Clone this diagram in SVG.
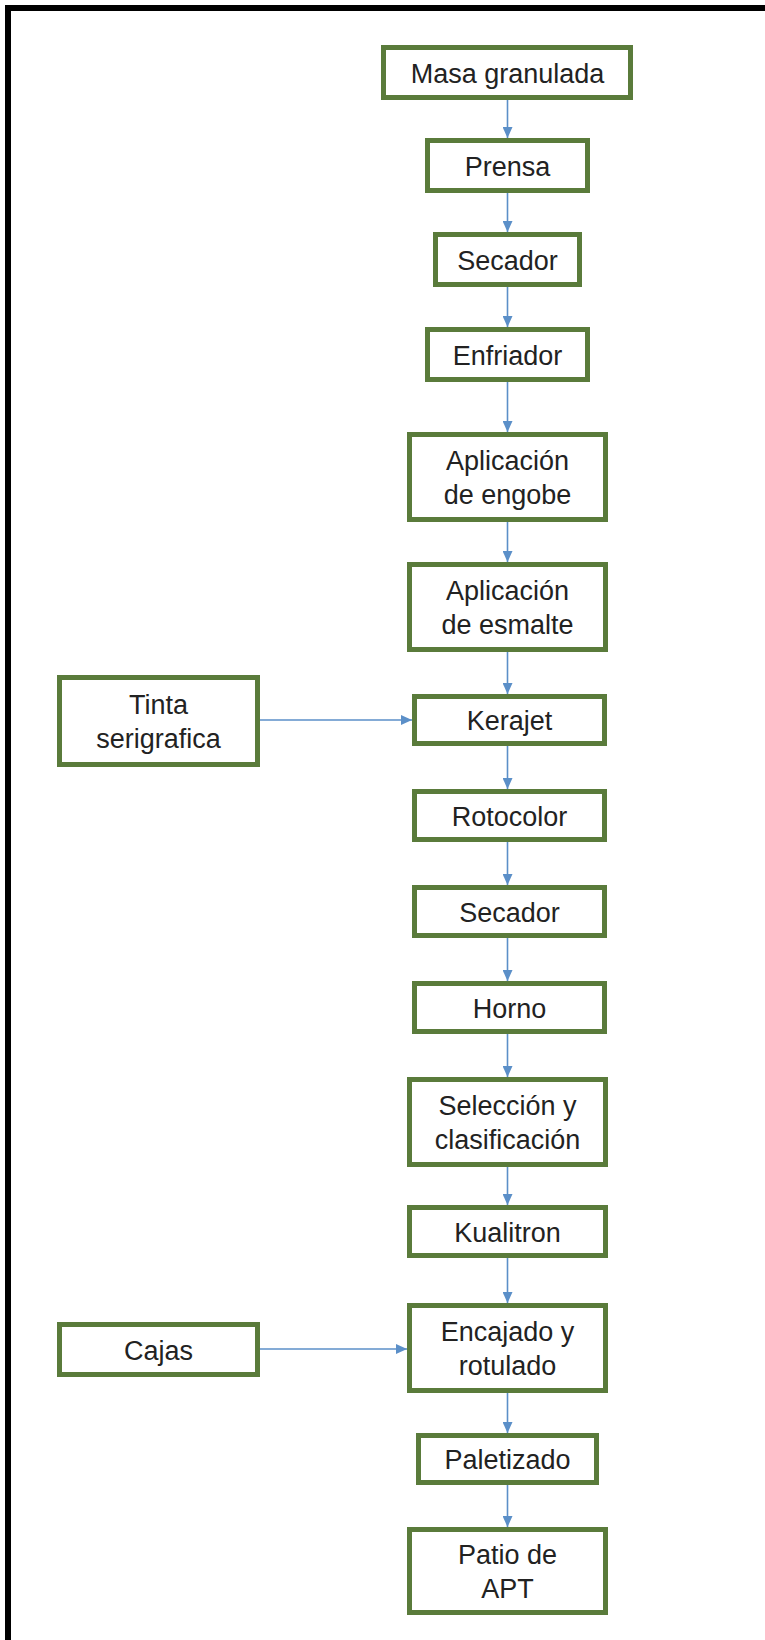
<svg xmlns="http://www.w3.org/2000/svg" width="765" height="1640" viewBox="0 0 765 1640">
<defs>
<style>
.box{fill:#ffffff;stroke:#5a7b3b;stroke-width:5}
.lbl{font-family:"Liberation Sans",Arial,sans-serif;font-size:27px;fill:#222222;text-anchor:middle}
.arr{stroke:#5b8fc8;stroke-width:1.6;fill:none;marker-end:url(#ah)}
</style>
<marker id="ah" markerUnits="userSpaceOnUse" markerWidth="11" markerHeight="10" refX="11" refY="5" orient="auto">
<path d="M0,0 L11,5 L0,10 z" fill="#5b8fc8"/>
</marker>
</defs>
<rect x="0" y="0" width="765" height="1640" fill="#ffffff"/>
<rect x="8" y="8" width="800" height="1700" fill="none" stroke="#000000" stroke-width="6"/>
<g id="connectors">
<line class="arr" x1="507.5" y1="100" x2="507.5" y2="138"/>
<line class="arr" x1="507.5" y1="193" x2="507.5" y2="232"/>
<line class="arr" x1="507.5" y1="287" x2="507.5" y2="327"/>
<line class="arr" x1="507.5" y1="382" x2="507.5" y2="432"/>
<line class="arr" x1="507.5" y1="522" x2="507.5" y2="562"/>
<line class="arr" x1="507.5" y1="652" x2="507.5" y2="694"/>
<line class="arr" x1="507.5" y1="746" x2="507.5" y2="789"/>
<line class="arr" x1="507.5" y1="842" x2="507.5" y2="885"/>
<line class="arr" x1="507.5" y1="938" x2="507.5" y2="981"/>
<line class="arr" x1="507.5" y1="1034" x2="507.5" y2="1077"/>
<line class="arr" x1="507.5" y1="1167" x2="507.5" y2="1205"/>
<line class="arr" x1="507.5" y1="1258" x2="507.5" y2="1303"/>
<line class="arr" x1="507.5" y1="1393" x2="507.5" y2="1433"/>
<line class="arr" x1="507.5" y1="1485" x2="507.5" y2="1527"/>
<line class="arr" x1="260" y1="720" x2="412" y2="720"/>
<line class="arr" x1="260" y1="1349" x2="407" y2="1349"/>
</g>
<g id="n1"><rect class="box" x="383.5" y="47.5" width="247" height="50"/><text class="lbl" x="507.5" y="82.5">Masa granulada</text></g>
<g id="n2"><rect class="box" x="427.5" y="140.5" width="160" height="50"/><text class="lbl" x="507.5" y="175.5">Prensa</text></g>
<g id="n3"><rect class="box" x="435.5" y="234.5" width="144" height="50"/><text class="lbl" x="507.5" y="269.5">Secador</text></g>
<g id="n4"><rect class="box" x="427.5" y="329.5" width="160" height="50"/><text class="lbl" x="507.5" y="364.5">Enfriador</text></g>
<g id="n5"><rect class="box" x="409.5" y="434.5" width="196" height="85"/><text class="lbl" x="507.5" y="470">Aplicación</text><text class="lbl" x="507.5" y="504">de engobe</text></g>
<g id="n6"><rect class="box" x="409.5" y="564.5" width="196" height="85"/><text class="lbl" x="507.5" y="600">Aplicación</text><text class="lbl" x="507.5" y="634">de esmalte</text></g>
<g id="n7"><rect class="box" x="414.5" y="696.5" width="190" height="47"/><text class="lbl" x="509.5" y="730">Kerajet</text></g>
<g id="n8"><rect class="box" x="59.5" y="677.5" width="198" height="87"/><text class="lbl" x="158.5" y="714">Tinta</text><text class="lbl" x="158.5" y="748">serigrafica</text></g>
<g id="n9"><rect class="box" x="414.5" y="791.5" width="190" height="48"/><text class="lbl" x="509.5" y="825.5">Rotocolor</text></g>
<g id="n10"><rect class="box" x="414.5" y="887.5" width="190" height="48"/><text class="lbl" x="509.5" y="921.5">Secador</text></g>
<g id="n11"><rect class="box" x="414.5" y="983.5" width="190" height="48"/><text class="lbl" x="509.5" y="1017.5">Horno</text></g>
<g id="n12"><rect class="box" x="409.5" y="1079.5" width="196" height="85"/><text class="lbl" x="507.5" y="1115">Selección y</text><text class="lbl" x="507.5" y="1149">clasificación</text></g>
<g id="n13"><rect class="box" x="409.5" y="1207.5" width="196" height="48"/><text class="lbl" x="507.5" y="1241.5">Kualitron</text></g>
<g id="n14"><rect class="box" x="409.5" y="1305.5" width="196" height="85"/><text class="lbl" x="507.5" y="1341">Encajado y</text><text class="lbl" x="507.5" y="1375">rotulado</text></g>
<g id="n15"><rect class="box" x="59.5" y="1324.5" width="198" height="50"/><text class="lbl" x="158.5" y="1359.5">Cajas</text></g>
<g id="n16"><rect class="box" x="418.5" y="1435.5" width="178" height="47"/><text class="lbl" x="507.5" y="1469">Paletizado</text></g>
<g id="n17"><rect class="box" x="409.5" y="1529.5" width="196" height="83"/><text class="lbl" x="507.5" y="1564">Patio de</text><text class="lbl" x="507.5" y="1598">APT</text></g>
</svg>
